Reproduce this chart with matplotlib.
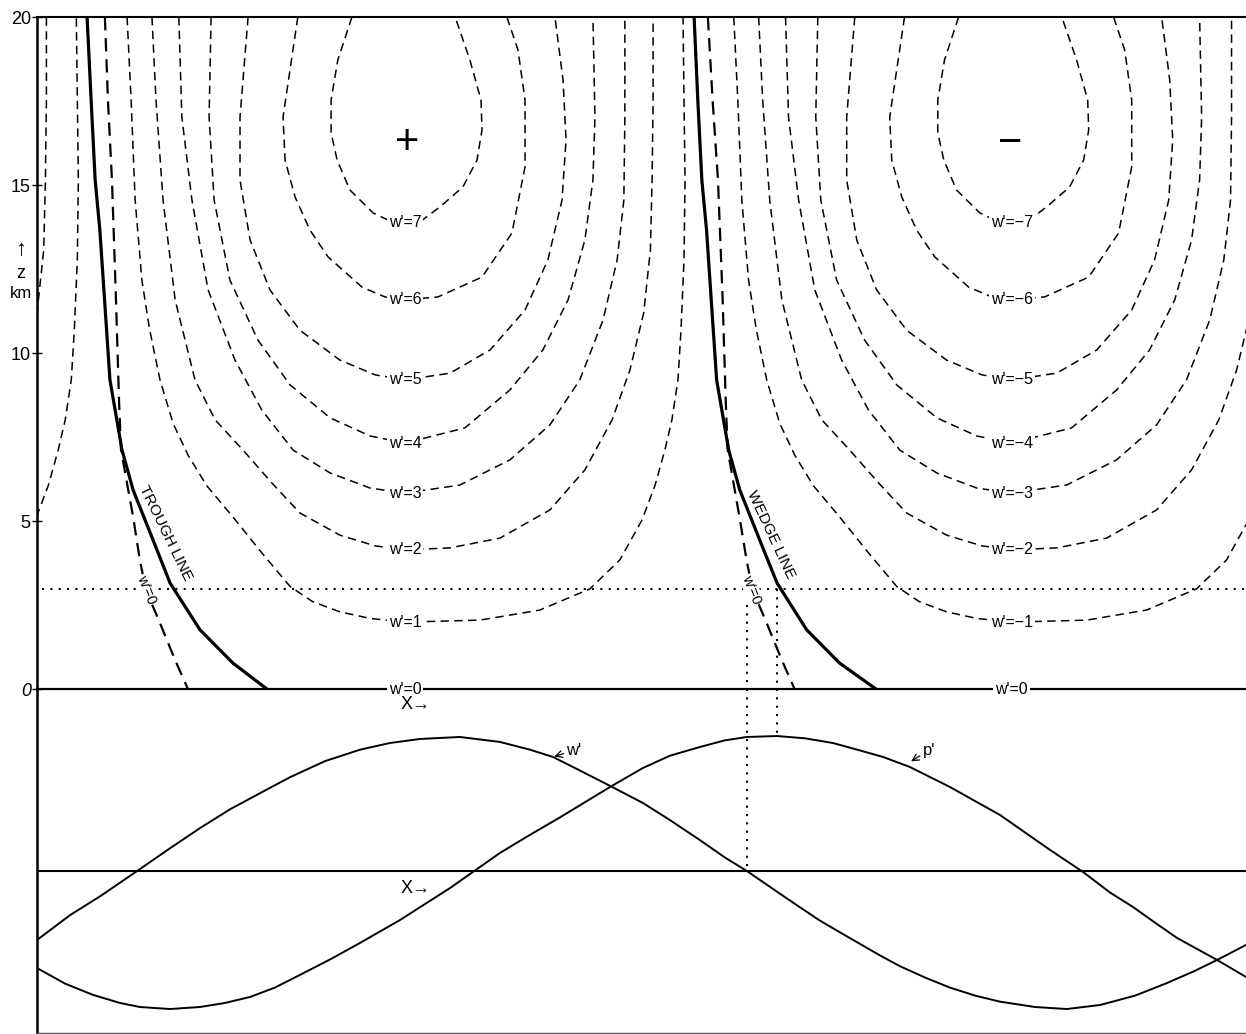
import matplotlib
matplotlib.use("Agg")
import matplotlib.pyplot as plt
import numpy as np

plt.rcParams['font.family'] = ['Liberation Sans', 'DejaVu Sans']

# x is the phase along the wave in degrees, z is height in km
half_wave = 180.5

# trough and wedge lines (solid)
trough_x = [14.9, 16.1, 17.3, 18.7, 21.7, 25.3, 28.6, 35.7, 39.6, 48.5, 58.3, 68.4]
wedge_x = [195.5, 196.6, 197.8, 199.2, 202.2, 205.8, 209.1, 216.2, 220.2, 229.0, 238.8, 249.6]
ridge_z = [20, 17.53, 15.15, 13.66, 9.20, 7.11, 5.92, 4.14, 3.15, 1.76, 0.77, 0]

# w'=0 lines next to trough and wedge
w0_left_x = [20.2, 21.1, 22.3, 23.5, 24.4, 25.0, 28.6, 30.6, 32.4, 36.6, 41.1, 44.9]
w0_right_x = [199.6, 201.0, 202.6, 204.0, 204.9, 205.5, 209.0, 211.1, 212.9, 217.1, 221.6, 225.4]
w0_z = [20, 17.53, 15.15, 11.58, 8.60, 7.11, 5.12, 3.84, 2.95, 1.96, 0.86, 0]

# w' contours of the positive cell (left arm top -> bottom -> right arm top)
w1_x = [26.8, 28.0, 29.2, 31.2, 33.5, 36.6, 40.5, 45.0, 50.5, 58.3, 66.9, 75.3, 82.0, 90.0, 99.1, 109.5,
        131.8, 149.6, 164.5, 173.4, 180.0, 183.9, 186.8, 188.9, 190.7, 191.6, 192.5, 192.8, 192.5, 192.2]
w1_z = [20, 17.53, 14.55, 12.17, 10.7, 9.20, 7.9, 6.95, 6.05, 5.12, 4.05, 3.05, 2.6, 2.3, 2.1, 1.99,
        2.05, 2.35, 2.98, 3.84, 5.03, 6.07, 7.11, 8.01, 9.20, 10.68, 12.77, 15.15, 17.53, 20]
w2_x = [34.2, 35.4, 37.5, 41.1, 47.0, 53.0, 61.3, 69.9, 78.2, 90.1, 100.6, 109.5,
        122.9, 137.7, 152.6, 163.0, 171.1, 176.4, 180.5, 182.5, 183.0, 183.3, 183.3]
w2_z = [20, 17.53, 14.55, 11.58, 9.20, 8.01, 7.11, 6.13, 5.24, 4.58, 4.26, 4.14,
        4.20, 4.49, 5.33, 6.52, 8.01, 9.49, 11.19, 13.07, 15.15, 17.53, 20]
w3_x = [42.2, 43.1, 46.1, 50.9, 58.9, 66.9, 76.2, 87.2, 99.1, 109.5,
        125.8, 140.7, 152.6, 161.5, 168.4, 172.6, 174.6, 174.9, 174.9]
w3_z = [20, 17.02, 14.55, 11.88, 9.79, 8.30, 7.11, 6.43, 5.98, 5.83,
        6.07, 6.82, 7.86, 9.20, 10.98, 12.77, 14.55, 17.02, 20]
w4_x = [51.8, 51.2, 52.7, 57.4, 65.7, 75.3, 87.2, 99.1, 109.5,
        127.3, 140.7, 150.5, 158.0, 163.0, 165.4, 166.0, 165.4]
w4_z = [20, 17.02, 14.55, 12.17, 10.39, 9.05, 8.07, 7.53, 7.32,
        7.77, 8.90, 10.09, 11.58, 13.36, 15.15, 17.02, 20]
w5_x = [62.8, 60.4, 60.4, 63.4, 69.3, 78.2, 90.1, 100.6, 109.5,
        122.9, 134.8, 145.2, 152.0, 156.2, 157.4, 156.5, 154.1]
w5_z = [20, 17.02, 15.15, 13.36, 11.88, 10.68, 9.79, 9.35, 9.20,
        9.40, 10.09, 11.28, 12.77, 14.55, 16.34, 18.13, 20]
w6_x = [77.6, 73.2, 73.8, 76.8, 81.2, 86.6, 96.7, 103.5, 109.5,
        119.3, 132.4, 141.3, 145.2, 145.2, 143.1, 139.8]
w6_z = [20, 17.02, 15.74, 14.64, 13.66, 12.86, 11.96, 11.67, 11.58,
        11.67, 12.26, 13.57, 15.54, 17.53, 19.02, 20]
w7_x = [93.7, 89.5, 87.5, 87.5, 89.3, 93.1, 100.0, 105.0, 109.5,
        113.9, 119.9, 126.7, 130.9, 132.4, 132.1, 128.8, 124.4]
w7_z = [20, 18.72, 17.53, 16.55, 15.74, 14.85, 14.17, 13.93, 13.87,
        13.90, 14.35, 14.94, 15.74, 16.64, 17.53, 18.72, 20]

levels = [1, 2, 3, 4, 5, 6, 7]
level_z = [1.99, 4.14, 5.83, 7.32, 9.20, 11.58, 13.87]
contours = [(w1_x, w1_z), (w2_x, w2_z), (w3_x, w3_z), (w4_x, w4_z),
            (w5_x, w5_z), (w6_x, w6_z), (w7_x, w7_z)]
dotted_z = 2.98

# lower panel: w' and p' along x (scaled to peak = 1)
wcurve_x = [0, 9.8, 18.7, 29.8, 39.6, 48.5, 57.4, 66.3, 75.3, 85.7, 96.1, 105.0, 113.9, 125.8,
            137.7, 146.7, 153.5, 161.5, 170.5, 180.3, 188.3, 197.2, 204.7, 211.2, 223.1, 232.9,
            241.8, 250.8, 256.7, 264.2, 271.6, 279.1, 286.5, 296.9, 306.4, 316.3, 326.7, 336.2,
            344.5, 351.1, 359.7]
wcurve_y = [-0.515, -0.33, -0.19, 0.0, 0.17, 0.32, 0.46, 0.58, 0.70, 0.82, 0.905, 0.955, 0.985, 1.0,
            0.963, 0.905, 0.851, 0.75, 0.635, 0.507, 0.38, 0.231, 0.10, 0.0, -0.205, -0.37,
            -0.50, -0.63, -0.71, -0.795, -0.87, -0.93, -0.975, -1.015, -1.03, -1.0, -0.93, -0.836,
            -0.745, -0.664, -0.552]
pcurve_x = [0, 8.3, 16.7, 24.7, 30.6, 39.6, 48.5, 55.9, 63.4, 70.8, 78.2, 87.2, 96.1, 108.0,
            122.9, 137.7, 146.7, 155.6, 170.5, 180.3, 188.3, 197.2, 204.7, 211.2, 220.2, 228.5,
            236.8, 244.8, 251.7, 259.7, 271.6, 286.5, 301.4, 311.2, 319.2, 326.1, 332.6, 339.2,
            351.1, 359.7]
pcurve_y = [-0.724, -0.84, -0.925, -0.985, -1.015, -1.03, -1.015, -0.985, -0.94, -0.87, -0.776, -0.66,
            -0.537, -0.366, -0.127, 0.134, 0.27, 0.40, 0.627, 0.769, 0.86, 0.925, 0.975, 1.0, 1.007,
            0.99, 0.955, 0.90, 0.851, 0.776, 0.627, 0.418, 0.157, -0.007, -0.16, -0.269, -0.385,
            -0.50, -0.664, -0.791]

W, H = 1246, 1034
fig = plt.figure(figsize=(W / 100, H / 100), dpi=100)
ax = fig.add_axes([37 / W, 1 - 689 / H, 1209 / W, 672 / H])
ax2 = fig.add_axes([37 / W, 1 - 1033 / H, 1209 / W, 344 / H])
ax2.patch.set_visible(False)

ax.set_xlim(0, 359.7)
ax.set_ylim(0, 20)
ax2.set_xlim(0, 359.7)
ax2.set_ylim(-1.209, 1.358)

# upper panel
dash = (0, (5.5, 3.5))
for xs, zs in contours:
    for shift in (-half_wave, 0, half_wave):
        ax.plot(np.array(xs) + shift, zs, color='k', lw=1.1, ls=dash)
for xs in (w0_left_x, w0_right_x):
    ax.plot(xs, w0_z, color='k', lw=1.6, ls=(0, (6, 3.5)))
ax.plot(trough_x, ridge_z, color='k', lw=2.3)
ax.plot(wedge_x, ridge_z, color='k', lw=2.3)
ax.plot([1.5, 359.7], [dotted_z, dotted_z], color='k', lw=1.5, ls=(0, (1, 3)))
ax.plot([211.2, 211.2], [2.5, 0], color='k', lw=1.5, ls=(0, (1, 3)), clip_on=False)
ax.plot([220.2, 220.2], [dotted_z, 0], color='k', lw=1.5, ls=(0, (1, 3)), clip_on=False)

box = dict(facecolor='white', edgecolor='none', pad=1.5)
for k, zc in zip(levels, level_z):
    ax.text(109.5, zc, f"w'={k}", fontsize=11.5, ha='center', va='center', bbox=box)
    ax.text(290.0, zc, f"w'=\u2212{k}", fontsize=11.5, ha='center', va='center', bbox=box)
ax.text(109.5, 0, "w'=0", fontsize=11.5, ha='center', va='center', bbox=box)
ax.text(290.0, 0, "w'=0", fontsize=11.5, ha='center', va='center', bbox=box)
ax.text(110.1, 16.25, "+", fontsize=30, ha='center', va='center')
ax.text(289.5, 16.25, "\u2212", fontsize=30, ha='center', va='center')

ax.text(38.3, 4.65, "TROUGH LINE", fontsize=11, rotation=-64,
        rotation_mode='anchor', ha='center', va='center')
ax.text(218.3, 4.6, "WEDGE LINE", fontsize=11, rotation=-65,
        rotation_mode='anchor', ha='center', va='center')
ax.text(32.6, 2.95, "w'=0", fontsize=10.5, rotation=-68, rotation_mode='anchor',
        ha='center', va='center', bbox=dict(facecolor='white', edgecolor='none', pad=0.5))
ax.text(212.6, 2.95, "w'=0", fontsize=10.5, rotation=-68, rotation_mode='anchor',
        ha='center', va='center', bbox=dict(facecolor='white', edgecolor='none', pad=0.5))

ax.spines['right'].set_visible(False)
ax.spines['left'].set_linewidth(1.8)
ax.spines['top'].set_linewidth(1.5)
ax.spines['bottom'].set_linewidth(1.6)
ax.set_xticks([])
ax.set_yticks([0, 5, 10, 15, 20])
ax.set_yticklabels(['0', '5', '10', '15', '20'])
ax.get_yticklabels()[0].set_fontstyle('italic')
ax.tick_params(axis='y', direction='inout', length=7, width=1, labelsize=13, pad=1)

fig.text(21 / W, 1 - 250 / H, "\u2191", fontsize=16, ha='center', va='center')
fig.text(21 / W, 1 - 273 / H, "z", fontsize=13, ha='center', va='center')
fig.text(21 / W, 1 - 293 / H, "km", fontsize=12, ha='center', va='center')

# lower panel
ax2.axhline(0, color='k', lw=1.5)
ax2.plot(wcurve_x, wcurve_y, color='k', lw=1.4)
ax2.plot(pcurve_x, pcurve_y, color='k', lw=1.4)
ax2.plot([211.2, 211.2], [1.358, 0], color='k', lw=1.5, ls=(0, (1, 3)))
ax2.plot([220.2, 220.2], [1.358, 1.007], color='k', lw=1.5, ls=(0, (1, 3)))
ax2.text(112.5, 1.239, "X\u2192", fontsize=13, ha='center', va='center')
ax2.text(112.5, -0.127, "X\u2192", fontsize=13, ha='center', va='center')
ax2.annotate("w'", xy=(153.5, 0.851), xytext=(157.5, 0.90), fontsize=12, ha='left', va='center',
             arrowprops=dict(arrowstyle='->', lw=0.9, shrinkA=0, shrinkB=1))
ax2.annotate("p'", xy=(259.7, 0.813), xytext=(263.5, 0.90), fontsize=12, ha='left', va='center',
             arrowprops=dict(arrowstyle='->', lw=0.9, shrinkA=0, shrinkB=1))

for s in ['top', 'right']:
    ax2.spines[s].set_visible(False)
ax2.spines['left'].set_linewidth(1.8)
ax2.spines['bottom'].set_linewidth(1.0)
ax2.spines['bottom'].set_color('0.35')
ax2.set_xticks([])
ax2.set_yticks([])

fig.savefig("out.png", dpi=100)
